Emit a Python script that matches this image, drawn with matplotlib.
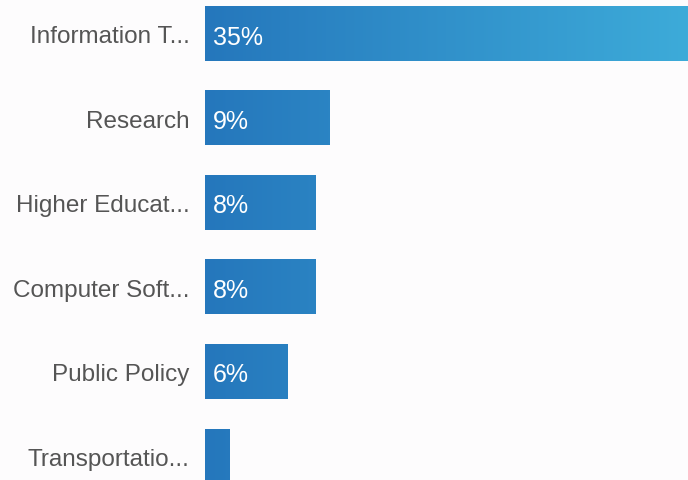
import numpy as np
import matplotlib
matplotlib.use("Agg")
from matplotlib import pyplot as plt
from matplotlib.colors import LinearSegmentedColormap

# data
labels = ['Information T...', 'Research', 'Higher Educat...',
          'Computer Soft...', 'Public Policy', 'Transportatio...']
values = [35, 9, 8, 8, 6, 1.8]

plt.rcParams['font.family'] = ['Liberation Sans', 'DejaVu Sans']

fig = plt.figure(figsize=(6.88, 4.81), dpi=100)
fig.patch.set_facecolor('#fdfcfd')
ax = fig.add_axes([205 / 688, 0, 1 - 205 / 688, 1])
ax.set_facecolor('#fdfcfd')

ypos = np.arange(len(values))
bars = ax.barh(ypos, values, height=0.64, color='none')

ax.set_xlim(0, max(values))
ax.set_ylim(5.28, -0.414)

# gradient fill, dark blue on the left to light blue on the right
cmap = LinearSegmentedColormap.from_list('g', ['#2577bc', '#3dabd9'])
grad = np.linspace(0, 1, 256).reshape(1, -1)
for b in bars:
    x0, y0, w, h = b.get_x(), b.get_y(), b.get_width(), b.get_height()
    frac = w / max(values)
    ax.imshow(grad[:, :max(2, int(256 * frac))], cmap=cmap, vmin=0, vmax=1,
              aspect='auto', extent=(x0, x0 + w, y0 + h, y0), zorder=2)

for y, v in zip(ypos, values):
    if v >= 3:
        ax.text(0.55, y + 0.03, f'{v:.0f}%', color='white', fontsize=18,
                va='center', ha='left', zorder=3)

ax.set_yticks(ypos)
ax.set_yticklabels(labels, fontsize=17.5, color='#555555')
ax.tick_params(axis='y', length=0, pad=11)
ax.set_xticks([])
for s in ax.spines.values():
    s.set_visible(False)

plt.savefig('out.png', dpi=100, facecolor=fig.get_facecolor())
